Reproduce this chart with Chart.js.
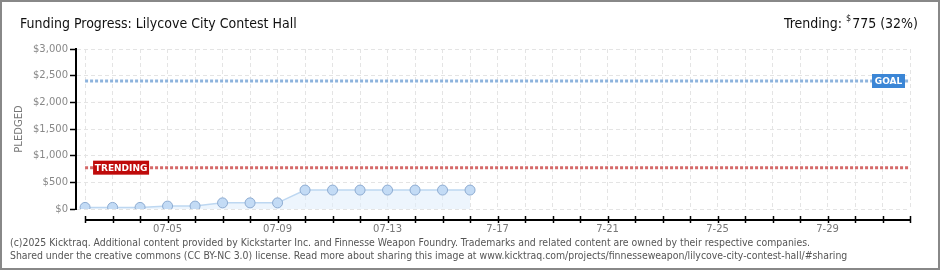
<!DOCTYPE html>
<html>
<head>
<meta charset="utf-8">
<script src="https://cdn.jsdelivr.net/npm/chart.js@4"></script>
<style>
  body { margin: 0; background: #fff; }
  #wrap { position: relative; width: 940px; height: 270px; }
</style>
</head>
<body>
<div id="wrap"><canvas id="fundChart" width="940" height="270"></canvas></div>
<script>
// days since 07-02 (0 = 07-02, 30 = 08-01)
const days = [0, 1, 2, 3, 4, 5, 6, 7, 8, 9, 10, 11, 12, 13, 14];
const pledged = [30, 30, 30, 55, 55, 115, 115, 115, 355, 355, 355, 355, 355, 355, 355];
const tickDays = [3, 7, 11, 15, 19, 23, 27];
const tickLabels = ['07-05', '07-09', '07-13', '7-17', '7-21', '7-25', '7-29'];
const lastDay = 30;
const goal = 2400;
const trending = 775;

const narrow = "'Liberation Sans Narrow', 'DejaVu Sans Condensed', sans-serif";

const frame = {
  id: 'frame',
  beforeDraw(chart) {
    const c = chart.ctx;
    c.save();
    c.fillStyle = '#fff';
    c.fillRect(0, 0, chart.width, chart.height);
    c.restore();
  },
  afterDraw(chart) {
    const c = chart.ctx;
    const x = chart.scales.x, y = chart.scales.y;
    const area = chart.chartArea;
    c.save();

    // x axis line sits a little below the plot
    const axY = area.bottom + 11;
    c.strokeStyle = '#000';
    c.lineWidth = 2;
    c.beginPath();
    c.moveTo(x.getPixelForValue(0), axY);
    c.lineTo(x.getPixelForValue(lastDay), axY);
    c.stroke();
    c.lineWidth = 1.5;
    for (let d = 0; d <= lastDay; d++) {
      const px = Math.round(x.getPixelForValue(d)) + 0.5;
      c.beginPath();
      c.moveTo(px, axY - 4);
      c.lineTo(px, axY + 3);
      c.stroke();
    }

    // labels on the reference lines
    c.font = "bold 9px 'DejaVu Sans', sans-serif";
    c.textBaseline = 'middle';
    const gy = y.getPixelForValue(goal);
    c.fillStyle = '#3b86d6';
    c.fillRect(area.right - 38, gy - 7, 33, 14);
    c.fillStyle = '#fff';
    c.textAlign = 'center';
    c.fillText('GOAL', area.right - 21.5, gy + 0.5);

    const ty = y.getPixelForValue(trending);
    c.fillStyle = '#bf0a0a';
    c.fillRect(x.getPixelForValue(0) + 8, ty - 7, 56, 14);
    c.fillStyle = '#fff';
    c.fillText('TRENDING', x.getPixelForValue(0) + 36, ty + 0.5);

    // title and trending figure
    c.textBaseline = 'alphabetic';
    c.textAlign = 'left';
    c.fillStyle = '#111';
    c.font = '14px ' + narrow;
    c.fillText('Funding Progress: Lilycove City Contest Hall', 20, 28);

    c.textAlign = 'right';
    const tail = '775 (32%)';
    c.fillText(tail, 918, 28);
    const tw = c.measureText(tail).width;
    c.font = '9px ' + narrow;
    c.fillText('$', 918 - tw - 1, 21);
    const sw = c.measureText('$').width;
    c.font = '14px ' + narrow;
    c.fillText('Trending:', 918 - tw - sw - 5, 28);

    // footer
    c.textAlign = 'left';
    c.fillStyle = '#555';
    c.font = '10.4px ' + narrow;
    c.fillText('(c)2025 Kicktraq. Additional content provided by Kickstarter Inc. and Finnesse Weapon Foundry. Trademarks and related content are owned by their respective companies.', 10, 246);
    c.fillText('Shared under the creative commons (CC BY-NC 3.0) license. Read more about sharing this image at www.kicktraq.com/projects/finnesseweapon/lilycove-city-contest-hall/#sharing', 10, 259);

    // outer border
    c.strokeStyle = '#888';
    c.lineWidth = 2;
    c.strokeRect(1, 1, chart.width - 2, chart.height - 2);
    c.restore();
  }
};

new Chart(document.getElementById('fundChart').getContext('2d'), {
  type: 'line',
  data: {
    datasets: [{
      label: 'Pledged',
      data: days.map((d, i) => ({ x: d, y: pledged[i] })),
      borderColor: '#bdd7f1',
      borderWidth: 1.5,
      backgroundColor: 'rgba(225, 238, 252, 0.6)',
      fill: 'origin',
      tension: 0,
      pointRadius: 5,
      pointBackgroundColor: '#c3dbf5',
      pointBorderColor: '#8eacd2',
      pointBorderWidth: 1,
      order: 3
    }, {
      label: 'Goal',
      data: [{ x: 0, y: goal }, { x: lastDay, y: goal }],
      borderColor: '#8db3dd',
      borderWidth: 3,
      borderDash: [3, 2],
      pointRadius: 0,
      fill: false,
      order: 1
    }, {
      label: 'Trending',
      data: [{ x: 0, y: trending }, { x: lastDay, y: trending }],
      borderColor: '#d56868',
      borderWidth: 3,
      borderDash: [3, 2],
      pointRadius: 0,
      fill: false,
      order: 2
    }]
  },
  options: {
    responsive: false,
    devicePixelRatio: 1,
    animation: false,
    layout: { padding: { top: 49, right: 30, left: 0, bottom: 0 } },
    plugins: {
      legend: { display: false },
      tooltip: { enabled: false }
    },
    scales: {
      x: {
        type: 'linear',
        min: -0.33,
        max: lastDay,
        afterBuildTicks(scale) {
          const t = [];
          for (let d = 0; d <= lastDay; d++) t.push({ value: d });
          scale.ticks = t;
        },
        afterFit(scale) { scale.height = 61; },
        border: { display: false, dash: [4, 3] },
        grid: {
          color: '#e4e4e4',
          drawTicks: false
        },
        ticks: {
          autoSkip: false,
          maxRotation: 0,
          padding: 14,
          color: '#777',
          font: { family: "'DejaVu Sans', sans-serif", size: 10 },
          callback(v) {
            const k = tickDays.indexOf(v);
            return k >= 0 ? tickLabels[k] : '';
          }
        }
      },
      y: {
        min: 0,
        max: 3000,
        afterFit(scale) { scale.width = 76; },
        border: { display: true, color: '#000', width: 2, dash: [4, 3] },
        grid: {
          color: ctx => ctx.tick && ctx.tick.value % 500 === 0 ? '#e4e4e4' : 'rgba(0,0,0,0)',
          tickColor: ctx => ctx.tick && ctx.tick.value % 500 === 0 ? '#000' : '#d40000',
          tickLength: 6,
          tickWidth: 1.5
        },
        title: {
          display: true,
          text: 'PLEDGED',
          color: '#777',
          font: { family: "'DejaVu Sans', sans-serif", size: 10 },
          padding: { top: 13, bottom: 0 }
        },
        ticks: {
          stepSize: 250,
          padding: 2,
          color: '#888',
          font: { family: "'DejaVu Sans', sans-serif", size: 10 },
          callback(v) {
            return v % 500 === 0 ? '$' + v.toLocaleString('en-US') : '';
          }
        }
      }
    }
  },
  plugins: [frame]
});
</script>
</body>
</html>
